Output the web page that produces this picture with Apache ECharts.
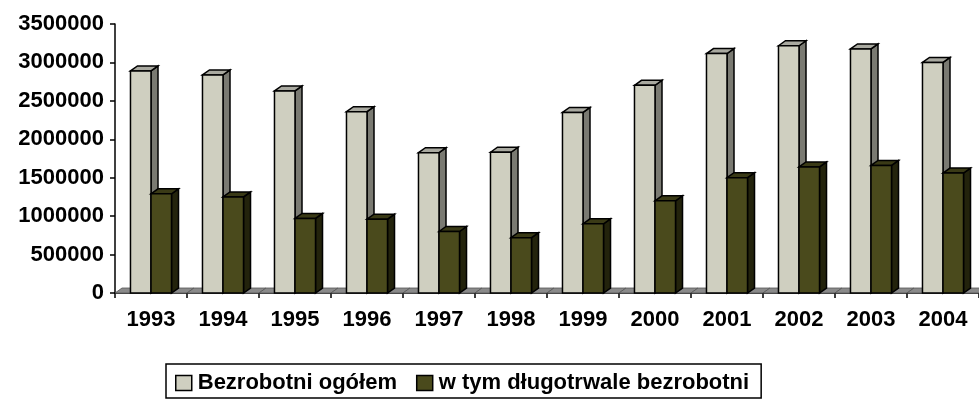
<!DOCTYPE html>
<html>
<head>
<meta charset="utf-8">
<script src="https://cdn.jsdelivr.net/npm/echarts@6/dist/echarts.min.js"></script>
<style>
html,body{margin:0;padding:0;background:#fff;}
#chart{width:979px;height:400px;}
</style>
</head>
<body>
<div id="chart"></div>
<script>
var years = ['1993','1994','1995','1996','1997','1998','1999','2000','2001','2002','2003','2004'];
var totalUnemployed = [2889600, 2838000, 2628800, 2359500, 1826400, 1831400, 2349800, 2702600, 3115100, 3217000, 3175700, 2999600];
var longTermUnemployed = [1290000, 1250000, 970000, 960000, 800000, 720000, 900000, 1200000, 1500000, 1640000, 1660000, 1560000];
var yTicks = [0, 500000, 1000000, 1500000, 2000000, 2500000, 3000000, 3500000];
var seriesNames = ['Bezrobotni ogółem', 'w tym długotrwale bezrobotni'];

var FONT = '"Liberation Sans", Arial, sans-serif';
var DX = 7, DY = -5;

function bar3d(offsetSign, colors) {
  return function (params, api) {
    var idx = api.value(0);
    var val = api.value(1);
    var top = api.coord([idx, val]);
    var base = api.coord([idx, 0]);
    var band = api.size([1, 0])[0];
    var bw = band * 0.285;
    var x0 = offsetSign < 0 ? top[0] - bw : top[0];
    var x1 = x0 + bw;
    var yT = top[1], yB = base[1];
    var lineStyle = {stroke: '#000', lineWidth: 1.5, lineJoin: 'miter'};
    return {
      type: 'group',
      children: [
        {type: 'polygon', shape: {points: [[x1, yT], [x1 + DX, yT + DY], [x1 + DX, yB + DY], [x1, yB]]},
         style: Object.assign({fill: colors.side}, lineStyle)},
        {type: 'polygon', shape: {points: [[x0, yT], [x0 + DX, yT + DY], [x1 + DX, yT + DY], [x1, yT]]},
         style: Object.assign({fill: colors.top}, lineStyle)},
        {type: 'rect', shape: {x: x0, y: yT, width: bw, height: yB - yT},
         style: Object.assign({fill: colors.front}, lineStyle)}
      ]
    };
  };
}

function floorItem(params, api) {
  var idx = api.value(0);
  var c = api.coord([idx, 0]);
  var band = api.size([1, 0])[0];
  var xa = c[0] - band / 2, xb = c[0] + band / 2;
  var y = c[1];
  return {
    type: 'polygon',
    shape: {points: [[xa, y], [xb, y], [xb + DX, y + DY], [xa + DX, y + DY]]},
    style: {fill: '#8a8a8a', stroke: '#555', lineWidth: 0.8}
  };
}

var lightColors = {front: '#cfcfc0', side: '#7a7a72', top: '#a9a9a0'};
var darkColors = {front: '#4a4a1c', side: '#23230c', top: '#3a3a16'};

var chart = echarts.init(document.getElementById('chart'), null, {renderer: 'canvas'});
chart.setOption({
  animation: false,
  backgroundColor: '#fff',
  grid: {left: 115, right: 0, top: 24, bottom: 107, containLabel: false},
  legend: {
    data: [
      {name: seriesNames[0], icon: 'rect', itemStyle: {color: lightColors.front, borderColor: '#000', borderWidth: 1.5}},
      {name: seriesNames[1], icon: 'rect', itemStyle: {color: darkColors.front, borderColor: '#000', borderWidth: 1.5}}
    ],
    left: 166, top: 364,
    padding: [8, 12, 4, 9],
    itemWidth: 16, itemHeight: 15, itemGap: 19,
    borderColor: '#000', borderWidth: 1.5,
    selectedMode: false,
    textStyle: {fontFamily: FONT, fontWeight: 'bold', fontSize: 22, color: '#000', padding: [0, 0, 0, 1]}
  },
  xAxis: {
    type: 'category',
    data: years,
    boundaryGap: true,
    axisLine: {show: true, lineStyle: {color: '#000', width: 1.5}},
    axisTick: {show: true, length: 5, lineStyle: {color: '#000', width: 1.5}},
    axisLabel: {margin: 16, fontFamily: FONT, fontWeight: 'bold', fontSize: 22, color: '#000', interval: 0},
    splitLine: {show: false}
  },
  yAxis: {
    type: 'value',
    min: yTicks[0], max: yTicks[yTicks.length - 1], interval: yTicks[1] - yTicks[0],
    axisLine: {show: true, lineStyle: {color: '#000', width: 1.5}},
    axisTick: {show: true, length: 5, lineStyle: {color: '#000', width: 1.5}},
    axisLabel: {margin: 11, fontFamily: FONT, fontWeight: 'bold', fontSize: 22, color: '#000',
      formatter: function (v) { return String(v); }},
    splitLine: {show: false}
  },
  series: [
    {
      type: 'custom', name: 'floor', silent: true, z: 1,
      renderItem: floorItem,
      data: years.map(function (y, i) { return [i, 0]; }),
      encode: {x: 0, y: 1}
    },
    {
      type: 'custom', name: seriesNames[0], z: 2,
      itemStyle: {color: lightColors.front},
      renderItem: bar3d(-1, lightColors),
      data: totalUnemployed.map(function (v, i) { return [i, v]; }),
      encode: {x: 0, y: 1}
    },
    {
      type: 'custom', name: seriesNames[1], z: 3,
      itemStyle: {color: darkColors.front},
      renderItem: bar3d(1, darkColors),
      data: longTermUnemployed.map(function (v, i) { return [i, v]; }),
      encode: {x: 0, y: 1}
    }
  ]
});
</script>
</body>
</html>
